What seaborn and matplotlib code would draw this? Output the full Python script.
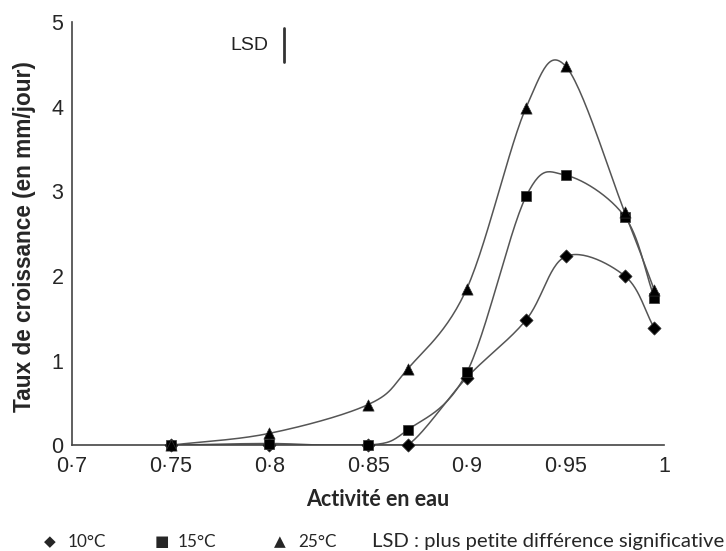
import numpy as np
import pandas as pd
import matplotlib
matplotlib.use("Agg")
import matplotlib.pyplot as plt
import seaborn as sns

# water activity and growth rate (mm/day) per temperature
aw_10 = [0.75, 0.80, 0.85, 0.87, 0.90, 0.93, 0.95, 0.98, 0.995]
rate_10 = [0.0, 0.0, 0.0, 0.0, 0.80, 1.48, 2.23, 2.00, 1.38]
aw_15 = [0.75, 0.80, 0.85, 0.87, 0.90, 0.93, 0.95, 0.98, 0.995]
rate_15 = [0.0, 0.02, 0.0, 0.18, 0.86, 2.94, 3.19, 2.70, 1.74]
aw_25 = [0.75, 0.80, 0.85, 0.87, 0.90, 0.93, 0.95, 0.98, 0.995]
rate_25 = [0.0, 0.14, 0.48, 0.90, 1.85, 3.99, 4.48, 2.75, 1.83]

x_ticks = [0.7, 0.75, 0.8, 0.85, 0.9, 0.95, 1.0]
x_tick_labels = ["0·7", "0·75", "0·8", "0·85", "0·9", "0·95", "1"]
y_ticks = [0, 1, 2, 3, 4, 5]
lsd_x, lsd_y0, lsd_y1 = 0.8073, 4.53, 4.93


def smooth(x, y, n=30):
    # Catmull-Rom smoothing through the points, like spreadsheet smoothed lines
    x = np.asarray(x, float)
    y = np.asarray(y, float)
    px = np.concatenate([[2 * x[0] - x[1]], x, [2 * x[-1] - x[-2]]])
    py = np.concatenate([[2 * y[0] - y[1]], y, [2 * y[-1] - y[-2]]])
    t = np.linspace(0, 1, n)
    h00 = 2 * t**3 - 3 * t**2 + 1
    h10 = t**3 - 2 * t**2 + t
    h01 = -2 * t**3 + 3 * t**2
    h11 = t**3 - t**2
    xs, ys = [], []
    for i in range(1, len(px) - 2):
        for p, out in ((px, xs), (py, ys)):
            m1 = (p[i + 1] - p[i - 1]) / 2
            m2 = (p[i + 2] - p[i]) / 2
            out.extend(h00 * p[i] + h10 * m1 + h01 * p[i + 1] + h11 * m2)
    return np.array(xs), np.array(ys)


sns.set_theme(style="white")
plt.rcParams["font.family"] = ["Liberation Sans", "DejaVu Sans"]

fig = plt.figure(figsize=(7.26, 5.51), dpi=100)
ax = fig.add_axes([0.099, 0.192, 0.816, 0.768])

series = [
    ("10°C", aw_10, rate_10, "D", 45),
    ("15°C", aw_15, rate_15, "s", 55),
    ("25°C", aw_25, rate_25, "^", 65),
]
for label, aw, rate, marker, size in series:
    sx, sy = smooth(aw, rate)
    sy = np.clip(sy, 0, None)
    sns.lineplot(x=sx, y=sy, ax=ax, color="#555555", linewidth=1.1, sort=False,
                 estimator=None)
    df = pd.DataFrame({"aw": aw, "rate": rate})
    sns.scatterplot(data=df, x="aw", y="rate", ax=ax, marker=marker, s=size,
                    color="black", edgecolor="#333333", linewidth=0.5, zorder=5,
                    clip_on=False)

ax.plot([lsd_x, lsd_x], [lsd_y0, lsd_y1], color="#333333", linewidth=2)
fig.text(268 / 726, 1 - 45 / 551, "LSD", ha="right", va="center",
         fontsize=14, color="#222222")

ax.set_xlim(0.7, 1.0)
ax.set_ylim(0, 5)
ax.set_xticks(x_ticks)
ax.set_xticklabels(x_tick_labels, fontsize=15.5)
ax.set_yticks(y_ticks)
ax.set_yticklabels([str(v) for v in y_ticks], fontsize=15.5)
ax.tick_params(axis="both", direction="out", length=4, width=1, color="#444444",
               pad=2)
ax.tick_params(axis="x", pad=4)
for side in ("top", "right"):
    ax.spines[side].set_visible(False)
for side in ("left", "bottom"):
    ax.spines[side].set_color("#444444")
    ax.spines[side].set_linewidth(1.2)
ax.set_xlabel("")
ax.set_ylabel("")
fig.text(25 / 726, 1 - 237 / 551, "Taux de croissance (en mm/jour)", rotation=90,
         ha="center", va="center", fontsize=16.3, fontweight="bold")

fig.text(378 / 726, 1 - 500 / 551, "Activité en eau", ha="center", va="center",
         fontsize=15.5, fontweight="bold", family=["Lato", "DejaVu Sans"])

legend_y = 1 - 542 / 551
legend_items = [
    (50, "◆", 68, "10°C"),
    (162, "■", 178, "15°C"),
    (280, "▲", 298, "25°C"),
]
for xs, sym, xt, txt in legend_items:
    fig.text(xs / 726, legend_y, sym, ha="center", va="center", fontsize=11,
             family=["DejaVu Sans"])
    fig.text(xt / 726, legend_y, txt, ha="left", va="center", fontsize=12.3,
             family=["Lato", "DejaVu Sans"])
fig.text(372 / 726, legend_y, "LSD : plus petite différence significative",
         ha="left", va="center", fontsize=14.6, family=["Lato", "DejaVu Sans"])

fig.savefig("out.png", dpi=100, facecolor="white")
